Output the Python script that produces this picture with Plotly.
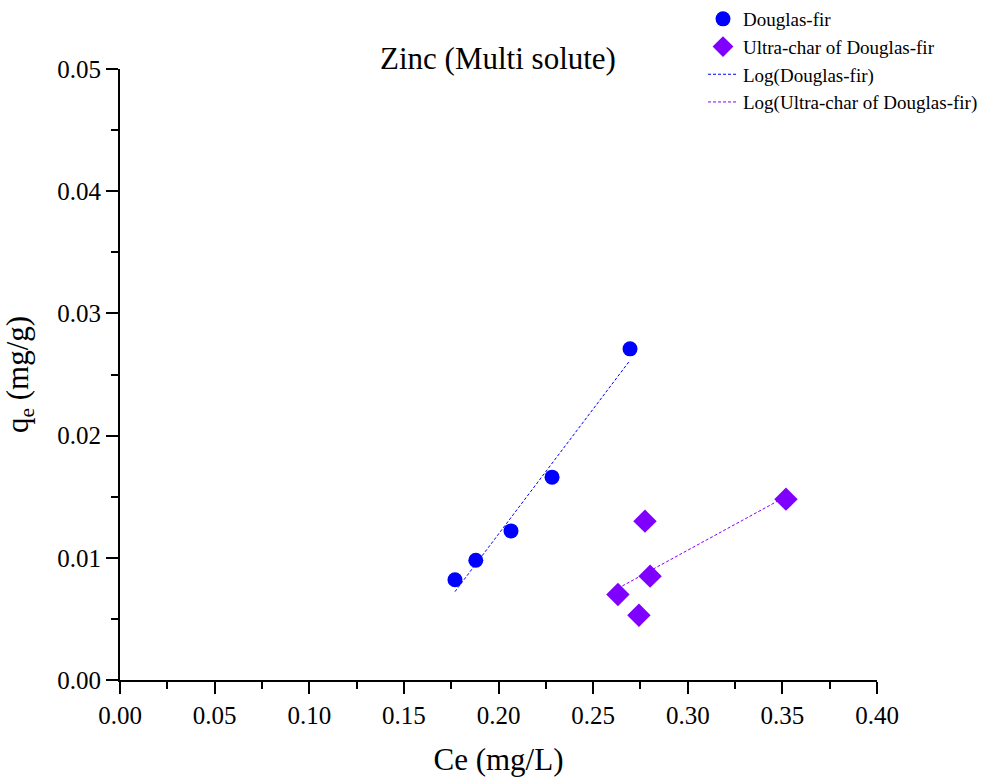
import numpy as np
import plotly.graph_objects as go

# Data
douglas_ce = [0.177, 0.188, 0.2066, 0.2283, 0.2695]
douglas_qe = [0.0082, 0.0098, 0.0122, 0.0166, 0.0271]
ultra_ce = [0.2631, 0.2774, 0.2742, 0.2801, 0.3519]
ultra_qe = [0.0070, 0.0130, 0.0053, 0.0085, 0.0148]

x_ticks = [0.00, 0.05, 0.10, 0.15, 0.20, 0.25, 0.30, 0.35, 0.40]
y_ticks = [0.00, 0.01, 0.02, 0.03, 0.04, 0.05]

BLUE = "#0000FF"
PURPLE = "#7F00FF"
FONT = "Liberation Serif"


def trend_fit(x, y):
    x = np.array(x)
    y = np.array(y)
    b, a = np.polyfit(x, y, 1)
    xs = np.linspace(x.min(), x.max(), 30)
    return xs, a + b * xs


fig = go.Figure()
fig.add_trace(go.Scatter(x=douglas_ce, y=douglas_qe, mode="markers", name="Douglas-fir",
                         marker=dict(symbol="circle", size=15, color=BLUE)))
fig.add_trace(go.Scatter(x=ultra_ce, y=ultra_qe, mode="markers", name="Ultra-char of Douglas-fir",
                         marker=dict(symbol="diamond", size=18, color=PURPLE)))
fx, fy = trend_fit(douglas_ce, douglas_qe)
fig.add_trace(go.Scatter(x=fx, y=fy, mode="lines", name="Log(Douglas-fir)",
                         line=dict(color=BLUE, width=1, dash="3px,2px")))
ux, uy = trend_fit(ultra_ce, ultra_qe)
fig.add_trace(go.Scatter(x=ux, y=uy, mode="lines", name="Log(Ultra-char of Douglas-fir)",
                         line=dict(color=PURPLE, width=1, dash="3px,2px")))

axis_common = dict(
    showline=True, linecolor="black", linewidth=2, mirror=False,
    ticks="outside", ticklen=12, tickwidth=2, tickcolor="black",
    showgrid=False, zeroline=False,
    tickfont=dict(family=FONT, size=25, color="black"),
)

fig.update_layout(
    width=1002, height=778,
    margin=dict(l=120, r=125, t=69, b=98, autoexpand=False),
    paper_bgcolor="white", plot_bgcolor="white",
    font=dict(family=FONT, color="black"),
    title=dict(text="Zinc (Multi solute)", x=0.497, xanchor="center", y=1 - 58 / 778, yanchor="middle",
               font=dict(family=FONT, size=31, color="black")),
    xaxis=dict(range=[0, 0.4], tickvals=x_ticks, ticktext=[f"{v:.2f}" for v in x_ticks],
               minor=dict(ticks="outside", ticklen=7, tickwidth=2, tickcolor="black", dtick=0.025),
               title=dict(text="Ce (mg/L)", font=dict(family=FONT, size=31), standoff=20),
               **axis_common),
    yaxis=dict(range=[0, 0.05], tickvals=y_ticks, ticktext=[f"{v:.2f}" for v in y_ticks],
               minor=dict(ticks="outside", ticklen=7, tickwidth=2, tickcolor="black", dtick=0.005),
               title=dict(text="q<sub>e</sub> (mg/g)", font=dict(family=FONT, size=31), standoff=24),
               **axis_common),
    legend=dict(xref="container", yref="container", x=0.7016, y=1.003, xanchor="left", yanchor="top",
                font=dict(family=FONT, size=19, color="black"),
                bgcolor="rgba(0,0,0,0)", tracegroupgap=0),
)

fig.write_html("out.html")
